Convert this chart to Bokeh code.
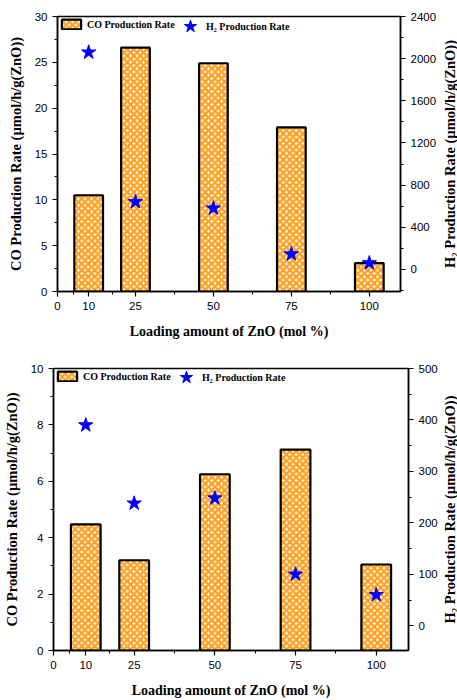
from bokeh.plotting import figure
from bokeh.models import (Range1d, LinearAxis, FixedTicker, SingleIntervalTicker,
                          Legend, LegendItem, ColumnDataSource, Title)
from bokeh.layouts import column, row
from bokeh.embed import file_html
from bokeh.resources import INLINE

# ZnO loading (mol %) and production rates for the two catalyst series
loading = [10, 25, 50, 75, 100]
co_top = [10.5, 26.6, 24.9, 17.9, 3.1]
h2_top = [2060, 640, 580, 145, 60]
co_bottom = [4.47, 3.2, 6.25, 7.12, 3.05]
h2_bottom = [390, 238, 248, 100, 60]

x_ticks = [0, 10, 25, 50, 75, 100]
x_minor = [5, 17.5, 37.5, 62.5, 87.5]

ORANGE = "#FFA020"
SERIF = "Liberation Serif"
SANS = "Liberation Sans"
X_MAX = 110
H2_TITLE = "H\u2082 Production Rate (\u00b5mol/h/g(ZnO))"


def style_axis(ax, label_size):
    ax.major_label_text_font = SANS
    ax.major_label_text_font_size = "11.5px"
    ax.major_label_text_color = "black"
    ax.axis_label_text_font = SERIF
    ax.axis_label_text_font_style = "bold"
    ax.axis_label_text_font_size = label_size
    ax.axis_label_text_color = "black"
    ax.axis_line_width = 1.5
    ax.major_tick_line_width = 1.2
    ax.minor_tick_line_width = 1.0
    ax.major_tick_in = 0
    ax.major_tick_out = 5
    ax.minor_tick_in = 0
    ax.minor_tick_out = 3


def right_title(width, height, top, bottom):
    # narrow strip carrying the H2 axis title, reading bottom-to-top
    t = figure(width=width, height=height, output_backend="svg", toolbar_location=None,
               min_border_left=0, min_border_right=0,
               min_border_top=top, min_border_bottom=bottom,
               x_range=Range1d(0, 1), y_range=Range1d(0, 1))
    t.axis.visible = False
    t.grid.visible = False
    t.outline_line_color = None
    t.add_layout(Title(text=H2_TITLE, align="center", standoff=0,
                       text_font=SERIF, text_font_style="bold",
                       text_font_size="14.5px", text_color="black"), "left")
    return t


def panel(co, h2, left_max, left_step, r_min, r_max, r_step, borders, height,
          main_width, star_legend_at):
    top, bottom, left, right = borders
    p = figure(width=main_width, height=height, output_backend="svg",
               toolbar_location=None,
               x_range=Range1d(0, X_MAX), y_range=Range1d(0, left_max),
               min_border_top=top, min_border_bottom=bottom,
               min_border_left=left, min_border_right=right)
    p.outline_line_color = "black"
    p.outline_line_width = 1.5
    p.xgrid.visible = False
    p.ygrid.visible = False
    p.background_fill_color = "white"
    p.border_fill_color = "white"

    p.extra_y_ranges = {"h2": Range1d(r_min, r_max)}

    src = ColumnDataSource(dict(x=loading, co=co, h2=h2))
    bars = p.vbar(x="x", top="co", width=9.2, bottom=0, source=src,
                  fill_color="white", line_color="black", line_width=2.2,
                  hatch_pattern="diagonal_cross", hatch_color=ORANGE,
                  hatch_weight=2.4, hatch_scale=6.5)
    stars = p.scatter(x="x", y="h2", source=src, marker="star", size=15,
                      fill_color="#0000FF", line_color="#0000FF",
                      y_range_name="h2")

    xa = p.xaxis[0]
    xa.ticker = FixedTicker(ticks=x_ticks, minor_ticks=x_minor)
    xa.axis_label = "Loading amount of ZnO (mol %)"
    xa.axis_label_standoff = 11
    style_axis(xa, "14px")

    ya = p.yaxis[0]
    ya.ticker = SingleIntervalTicker(interval=left_step, num_minor_ticks=2)
    ya.axis_label = "CO Production Rate (\u00b5mol/h/g(ZnO))"
    ya.axis_label_standoff = 8
    style_axis(ya, "14.5px")

    ra = LinearAxis(y_range_name="h2",
                    ticker=SingleIntervalTicker(interval=r_step, num_minor_ticks=2))
    style_axis(ra, "14.5px")
    p.add_layout(ra, "right")

    legend_bar = Legend(items=[LegendItem(label="CO Production Rate", renderers=[bars])],
                        location="top_left", orientation="horizontal",
                        label_text_font=SERIF, label_text_font_style="bold",
                        label_text_font_size="10px", label_text_color="black",
                        glyph_width=24, glyph_height=12, label_standoff=4,
                        margin=2, padding=2, border_line_color=None,
                        background_fill_alpha=0)
    legend_star = Legend(items=[LegendItem(label="H\u2082 Production Rate", renderers=[stars])],
                         location=star_legend_at, orientation="horizontal",
                         label_text_font=SERIF, label_text_font_style="bold",
                         label_text_font_size="10px", label_text_color="black",
                         glyph_width=32, glyph_height=32, label_standoff=0,
                         margin=0, padding=0, border_line_color=None,
                         background_fill_alpha=0)
    p.add_layout(legend_bar)
    p.add_layout(legend_star)

    t = right_title(457 - main_width, height, top, bottom)
    return row(p, t, spacing=0)


top_panel = panel(co_top, h2_top, 30, 5, -210, 2400, 400, (16, 59, 57, 39), 350,
                  439, (117, 249))
bottom_panel = panel(co_bottom, h2_bottom, 10, 2, -48, 500, 100, (18, 47, 51, 31), 350,
                     440, (117, 257))

layout = column(top_panel, bottom_panel, spacing=0)
open("out.html", "w").write(file_html(layout, INLINE))
